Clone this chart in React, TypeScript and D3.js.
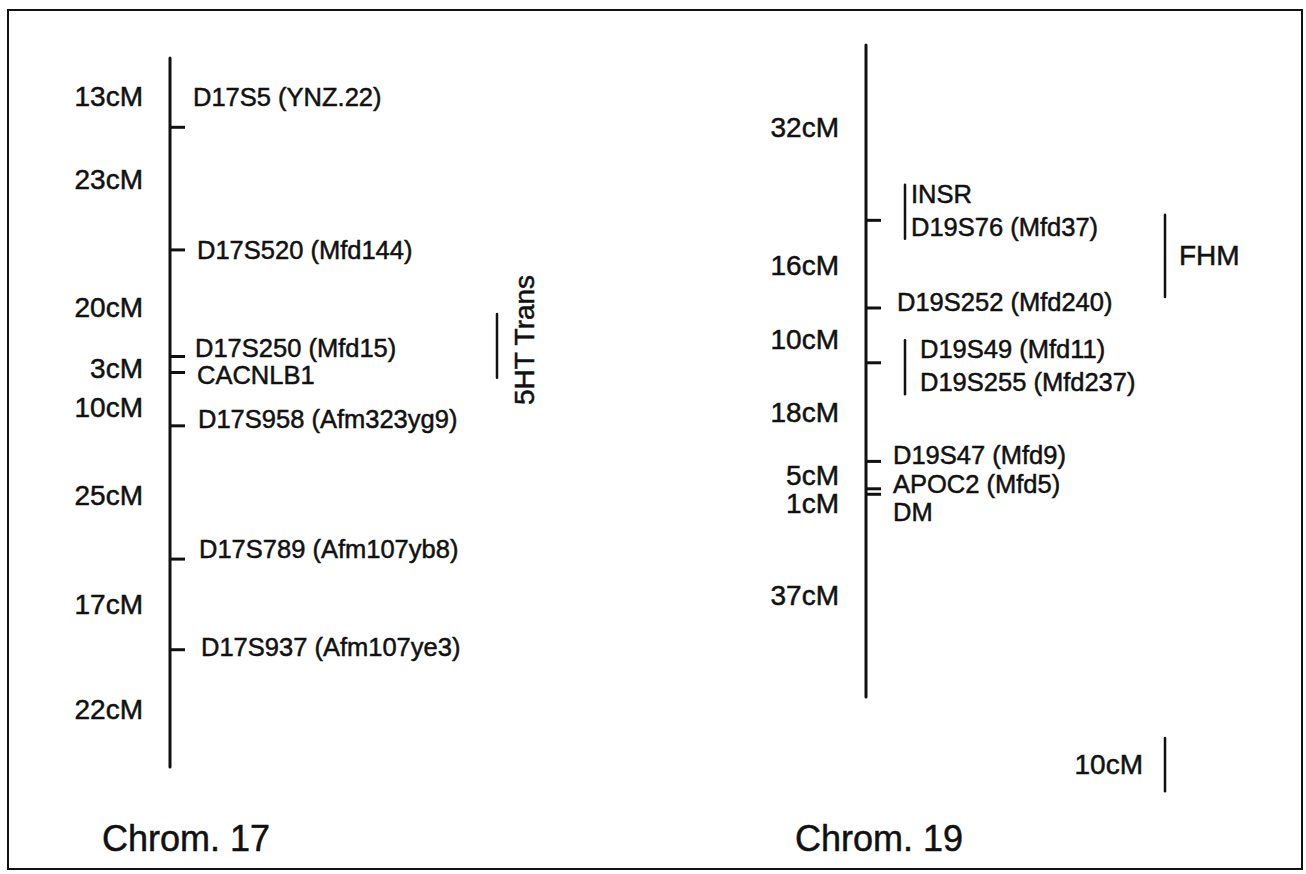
import React, { useEffect, useRef } from 'react'
import * as d3 from 'd3'

// Chrom. 17: map distances between neighbouring loci, top to bottom (cM)
const chr17Intervals = [13, 23, 20, 3, 10, 25, 17, 22]
const chr17Loci = [
  ['D17S5 (YNZ.22)'],
  ['D17S520 (Mfd144)'],
  ['D17S250 (Mfd15)'],
  ['CACNLB1'],
  ['D17S958 (Afm323yg9)'],
  ['D17S789 (Afm107yb8)'],
  ['D17S937 (Afm107ye3)'],
]

// Chrom. 19 (loci sharing one position are listed together)
const chr19Intervals = [32, 16, 10, 18, 5, 1, 37]
const chr19Loci = [
  ['INSR', 'D19S76 (Mfd37)'],
  ['D19S252 (Mfd240)'],
  ['D19S49 (Mfd11)', 'D19S255 (Mfd237)'],
  ['D19S47 (Mfd9)'],
  ['APOC2 (Mfd5)'],
  ['DM'],
]

// bracketed regions (cM from the top of each map)
const regionLabels = ['5HT Trans', 'FHM']
const regionChrom = [17, 19]
const regionFrom = [48, 31]
const regionTo = [60, 46]

const scaleBarCM = 10

// layout
const W = 1306
const H = 874
const FONT = '"Liberation Sans", Arial, Helvetica, sans-serif'
const INK = '#111'
const tickLen = 15

type MapLayout = {
  name: string
  intervals: number[]
  loci: string[][]
  x: number
  top: number
  bottom: number
  titleX: number
  labelDx: number[]
  labelDy: number[]
  distDy: number[]
  groupBarDx: number
}

const maps: MapLayout[] = [
  {
    name: 'Chrom. 17', intervals: chr17Intervals, loci: chr17Loci,
    x: 170, top: 58, bottom: 767, titleX: 102,
    labelDx: [23, 27, 25, 27, 28, 29, 31],
    labelDy: [-30, 0, -9, 2, -7, -10, -3],
    distDy: [4, -9, 4, 4, 8, 3, 0, 1],
    groupBarDx: 39,
  },
  {
    name: 'Chrom. 19', intervals: chr19Intervals, loci: chr19Loci,
    x: 866, top: 45, bottom: 697, titleX: 795,
    labelDx: [45, 31, 54, 27, 27, 27],
    labelDy: [-10, -6, 3, -6, -5, 18],
    distDy: [-5, 1, 4, 0, 0, 12, 0],
    groupBarDx: 39,
  },
]

export default function App() {
  const svgRef = useRef<SVGSVGElement>(null)

  useEffect(() => {
    const svg = d3.select(svgRef.current)
    svg.selectAll('*').remove()

    svg.append('rect')
      .attr('width', W).attr('height', H).attr('fill', '#fff')

    // frame round the figure
    svg.append('rect')
      .attr('x', 8).attr('y', 10)
      .attr('width', 1294).attr('height', 859)
      .attr('fill', 'none')
      .attr('stroke', INK)
      .attr('stroke-width', 2)

    // all text a touch heavier, like the printed original
    const root = svg.append('g')
      .attr('font-family', FONT)
      .attr('fill', INK)
      .attr('stroke-linecap', 'round')

    const scales: Record<number, d3.ScaleLinear<number, number>> = {}

    maps.forEach((m, mi) => {
      const total = d3.sum(m.intervals)
      const y = d3.scaleLinear().domain([0, total]).range([m.top, m.bottom])
      scales[mi === 0 ? 17 : 19] = y
      const cum = d3.cumsum(m.intervals) // loci positions
      const g = root.append('g')

      // the chromosome
      g.append('line')
        .attr('x1', m.x).attr('x2', m.x)
        .attr('y1', y(0)).attr('y2', y(total))
        .attr('stroke', INK).attr('stroke-width', 3)

      // loci ticks
      g.selectAll('line.tick')
        .data(m.loci)
        .join('line')
        .attr('class', 'tick')
        .attr('x1', m.x).attr('x2', m.x + tickLen)
        .attr('y1', (_, i) => y(cum[i]))
        .attr('y2', (_, i) => y(cum[i]))
        .attr('stroke', INK).attr('stroke-width', 3)
        .attr('stroke-linecap', 'butt')

      // distance labels, in the middle of each interval
      g.selectAll('text.dist')
        .data(m.intervals)
        .join('text')
        .attr('class', 'dist')
        .attr('x', m.x - 27)
        .attr('y', (d, i) => y(cum[i] - d / 2) + m.distDy[i])
        .attr('text-anchor', 'end')
        .attr('dominant-baseline', 'central')
        .attr('font-size', 28)
        .attr('stroke', INK).attr('stroke-width', 0.5)
        .text(d => `${d}cM`)

      // loci names
      m.loci.forEach((names, i) => {
        const cy = y(cum[i]) + m.labelDy[i]
        const step = 33
        const first = cy - ((names.length - 1) * step) / 2
        names.forEach((n, k) => {
          g.append('text')
            .attr('x', m.x + m.labelDx[i])
            .attr('y', first + k * step)
            .attr('dominant-baseline', 'central')
            .attr('font-size', 25.5)
            .attr('stroke', INK).attr('stroke-width', 0.5)
            .text(n)
        })
        if (names.length > 1) {
          g.append('line')
            .attr('x1', m.x + m.groupBarDx).attr('x2', m.x + m.groupBarDx)
            .attr('y1', first - 9)
            .attr('y2', first + (names.length - 1) * step + 12)
            .attr('stroke', INK).attr('stroke-width', 2.5)
        }
      })

      g.append('text')
        .attr('x', m.titleX)
        .attr('y', 838)
        .attr('dominant-baseline', 'central')
        .attr('font-size', 36)
        .attr('stroke', INK).attr('stroke-width', 0.5)
        .text(m.name)
    })

    // bracketed regions
    const regionX = [497, 1165]
    regionLabels.forEach((label, i) => {
      const y = scales[regionChrom[i]]
      const y0 = y(regionFrom[i])
      const y1 = y(regionTo[i])
      root.append('line')
        .attr('x1', regionX[i]).attr('x2', regionX[i])
        .attr('y1', y0).attr('y2', y1)
        .attr('stroke', INK).attr('stroke-width', 2.5)
      const t = root.append('text')
        .attr('dominant-baseline', 'central')
        .attr('font-size', 28)
        .attr('stroke', INK).attr('stroke-width', 0.5)
        .text(label)
      if (regionChrom[i] === 17) {
        t.attr('transform', `translate(${regionX[i] + 27},340) rotate(-90)`)
          .attr('text-anchor', 'middle')
      } else {
        t.attr('x', regionX[i] + 14).attr('y', (y0 + y1) / 2)
      }
    })

    // 10 cM scale bar
    const ys = scales[17]
    const barTop = 738
    const barLen = ys(scaleBarCM) - ys(0)
    root.append('line')
      .attr('x1', 1165).attr('x2', 1165)
      .attr('y1', barTop).attr('y2', barTop + barLen)
      .attr('stroke', INK).attr('stroke-width', 2.5)
    root.append('text')
      .attr('x', 1143)
      .attr('y', barTop + barLen / 2)
      .attr('text-anchor', 'end')
      .attr('dominant-baseline', 'central')
      .attr('font-size', 28)
      .attr('stroke', INK).attr('stroke-width', 0.5)
      .text(`${scaleBarCM}cM`)
  }, [])

  return (
    <svg
      ref={svgRef}
      width={W}
      height={H}
      style={{ position: 'absolute', left: 0, top: 0, display: 'block' }}
    />
  )
}
